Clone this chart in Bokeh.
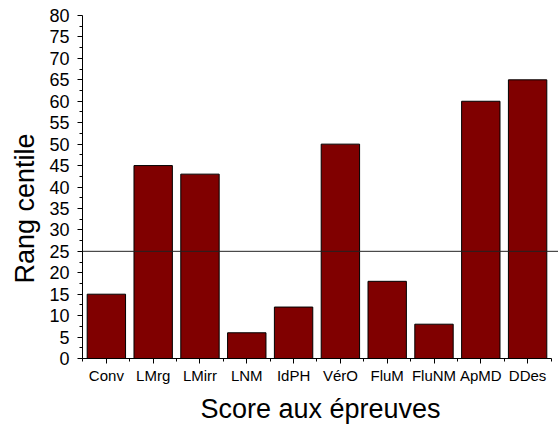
from bokeh.plotting import figure
from bokeh.models import ColumnDataSource, FixedTicker, Span, Range1d, Title
from bokeh.embed import file_html
from bokeh.resources import INLINE

categories = ["Conv", "LMrg", "LMirr", "LNM", "IdPH", "VérO", "FluM", "FluNM", "ApMD", "DDes"]
values = [15, 45, 43, 6, 12, 50, 18, 8, 60, 65]
threshold = 25
y_ticks = list(range(0, 81, 5))

xs = list(range(1, len(categories) + 1))
src = ColumnDataSource(dict(x=xs, top=values, name=categories))

FONT = "Liberation Sans"

p = figure(width=558, height=429, output_backend="svg", toolbar_location=None,
           x_range=Range1d(0.49, 10.66), y_range=Range1d(0, 80),
           min_border_left=82, min_border_right=0, min_border_top=15, min_border_bottom=71)
p.outline_line_color = None
p.xgrid.visible = False
p.ygrid.visible = False
p.background_fill_color = "white"
p.border_fill_color = "white"

p.vbar(x="x", top="top", bottom=0, width=0.82, source=src,
       fill_color="#800000", line_color="black", line_width=1)

p.add_layout(Span(location=threshold, dimension="width", line_color="#222222", line_width=1))

xa = p.xaxis[0]
xa.bounds = (0.49, 10.51)
xa.ticker = FixedTicker(ticks=xs, minor_ticks=[i + 0.5 for i in range(0, 11)])
xa.major_label_overrides = {i: c for i, c in zip(xs, categories)}
xa.major_label_text_font = FONT
xa.major_label_text_font_size = "15px"
xa.major_label_text_color = "black"
xa.major_label_standoff = 3
xa.axis_label = "Score aux épreuves"
xa.axis_label_text_font = FONT
xa.axis_label_text_font_size = "27px"
xa.axis_label_text_font_style = "normal"
xa.axis_label_text_color = "black"
xa.axis_label_standoff = 7
xa.major_tick_out = 5
xa.major_tick_in = 0
xa.minor_tick_out = 3
xa.minor_tick_in = 0
xa.axis_line_color = "black"
xa.major_tick_line_color = "black"
xa.minor_tick_line_color = "black"

ya = p.yaxis[0]
ya.ticker = FixedTicker(ticks=y_ticks, minor_ticks=[t + 2.5 for t in y_ticks[:-1]])
ya.major_label_text_font = FONT
ya.major_label_text_font_size = "18px"
ya.major_label_text_color = "black"
ya.major_label_standoff = 8
ya.major_tick_out = 5
ya.major_tick_in = 0
ya.minor_tick_out = 3
ya.minor_tick_in = 0
ya.axis_line_color = "black"
ya.major_tick_line_color = "black"
ya.minor_tick_line_color = "black"

ytitle = Title(text="Rang centile", align="left", offset=75,
               text_font=FONT, text_font_size="27px", text_font_style="normal",
               text_color="black", standoff=13)
p.add_layout(ytitle, "left")

open("out.html", "w").write(file_html(p, INLINE))
